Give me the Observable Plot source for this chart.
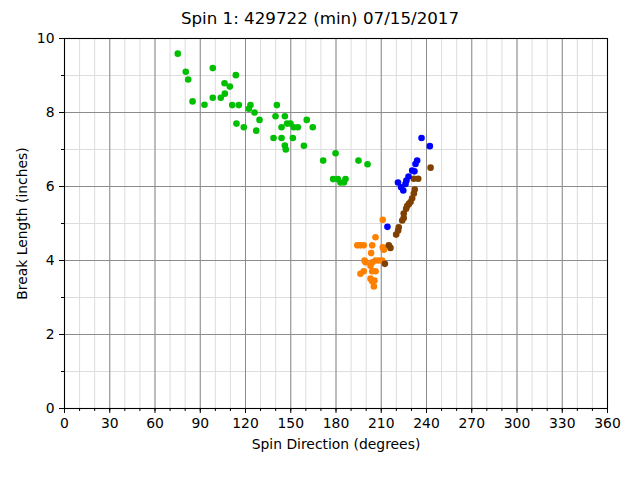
<!DOCTYPE html>
<html><head><meta charset="utf-8">
<script src="https://cdn.jsdelivr.net/npm/d3@7"></script>
<script src="https://cdn.jsdelivr.net/npm/@observablehq/plot@0.6"></script>
<style>
body{margin:0;background:#fff;font-family:"DejaVu Sans",sans-serif;}
#wrap{position:relative;width:640px;height:480px;}
#title{position:absolute;top:0;left:0;width:640px;text-align:center;font-size:16.7px;line-height:36px;color:#000;}
</style></head><body>
<div id="wrap"><div id="title">Spin 1: 429722 (min) 07/15/2017</div></div>
<script>
// Series: spin direction (degrees) and break length (inches)
const greenDir = [75.1,80.4,82.0,84.9,92.8,98.3,98.3,103.6,106.1,106.3,109.6,111.2,113.6,115.6,114.0,118.9,122.2,123.3,126.0,129.3,127.1,140.8,139.9,146.1,138.6,143.9,147.6,149.8,152.0,154.7,143.9,151.4,146.1,146.7,158.7,160.6,164.6,171.5,179.7,178.1,181.2,183.0,185.2,186.3,194.9,200.9];
const greenLen = [9.59,9.10,8.89,8.30,8.21,9.20,8.40,8.40,8.79,8.51,8.70,8.20,9.01,8.20,7.70,7.60,8.10,8.20,8.00,7.80,7.51,8.20,7.90,7.90,7.31,7.60,7.70,7.70,7.60,7.60,7.31,7.31,7.11,7.00,7.10,7.80,7.60,6.70,6.90,6.20,6.20,6.11,6.11,6.20,6.70,6.60];

const orangeDir = [211.0,206.2,194.1,196.2,198.4,204.0,211.0,211.7,203.3,198.9,199.6,204.0,206.2,208.4,210.6,202.9,198.4,196.2,204.0,206.2,202.9,204.0,205.5,205.1];
const orangeLen = [5.10,4.63,4.41,4.41,4.41,4.41,4.36,4.29,4.20,4.00,3.95,3.95,4.00,4.00,4.00,3.86,3.71,3.64,3.71,3.71,3.51,3.44,3.46,3.30];

const brownDir = [242.7,234.5,231.6,232.2,231.6,230.5,229.4,228.3,227.2,226.5,224.9,224.9,223.9,221.6,221.2,219.9,215.0,216.1,212.4];
const brownLen = [6.51,6.21,6.21,5.92,5.81,5.68,5.58,5.53,5.47,5.40,5.27,5.15,5.08,4.90,4.81,4.70,4.41,4.34,3.91];

const blueDir = [236.7,242.2,233.8,232.7,230.5,232.0,228.1,226.7,226.1,221.1,223.2,224.6,214.1];
const blueLen = [7.31,7.09,6.70,6.61,6.43,6.41,6.27,6.16,6.07,6.11,5.98,5.89,4.91];

const seriesNames = ["Series 1","Series 2","Series 3","Series 4"];
const seriesColors = ["#00bf00","#ff8000","#804000","#0000ff"];

const xTicks = [0,30,60,90,120,150,180,210,240,270,300,330,360];
const xMinorTicks = [0,10,20,30,40,50,60,70,80,90,100,110,120,130,140,150,160,170,180,190,200,210,220,230,240,250,260,270,280,290,300,310,320,330,340,350,360];
const yTicks = [0,2,4,6,8,10];
const yMinorTicks = [0,1,2,3,4,5,6,7,8,9,10];

const seriesData = [[greenDir,greenLen],[orangeDir,orangeLen],[brownDir,brownLen],[blueDir,blueLen]];
const data = [];
seriesData.forEach(([dirs,lens],k)=>dirs.forEach((d,i)=>data.push({dir:d,len:lens[i],type:seriesNames[k]})));

const chart = Plot.plot({
  width:640, height:480,
  marginLeft:64, marginRight:33, marginTop:38, marginBottom:72,
  style:{fontFamily:"DejaVu Sans", fontSize:"13.9px", background:"transparent", color:"black"},
  x:{domain:[0,360]},
  y:{domain:[0,10]},
  color:{type:"categorical", domain:seriesNames, range:seriesColors},
  marks:[
    Plot.ruleX(xMinorTicks,{stroke:"#dddddd",strokeWidth:1}),
    Plot.ruleY(yMinorTicks,{stroke:"#dddddd",strokeWidth:1}),
    Plot.ruleX(xTicks,{stroke:"#8c8c8c",strokeWidth:1}),
    Plot.ruleY(yTicks,{stroke:"#8c8c8c",strokeWidth:1}),
    Plot.dot(data,{x:"dir",y:"len",fill:"type",r:3.3,stroke:null}),
    Plot.frame({stroke:"black",strokeWidth:1.1}),
    Plot.axisX(xMinorTicks,{tickSize:3,text:null,label:null}),
    Plot.axisX(xTicks,{tickSize:5,tickPadding:5,label:"Spin Direction (degrees)",labelAnchor:"center",labelArrow:"none",labelOffset:40}),
    Plot.axisY(yMinorTicks,{tickSize:3,text:null,label:null}),
    Plot.axisY(yTicks,{tickSize:5,tickPadding:5,label:"Break Length (inches)",labelAnchor:"center",labelArrow:"none",labelOffset:47})
  ]
});
document.getElementById("wrap").appendChild(chart);
</script>
</body></html>
